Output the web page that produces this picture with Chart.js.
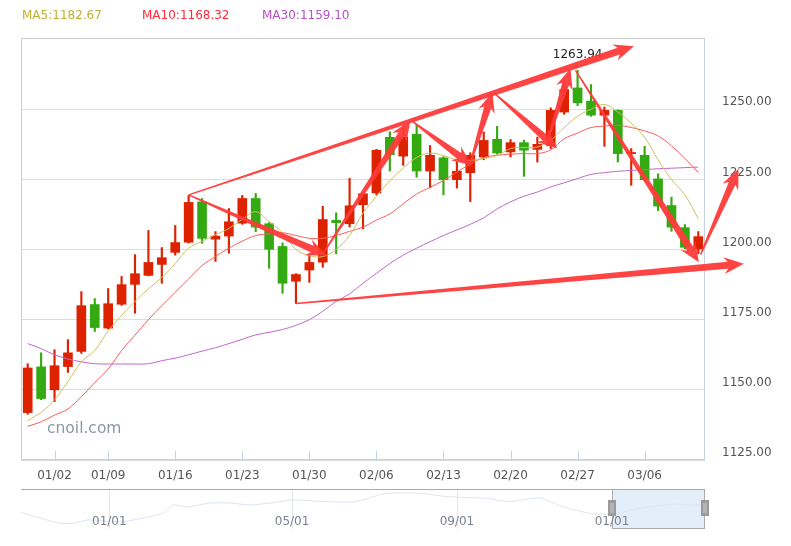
<!DOCTYPE html>
<html><head><meta charset="utf-8">
<script src="https://cdn.jsdelivr.net/npm/chart.js@4.4.1/dist/chart.umd.min.js"></script>
<style>
html,body{margin:0;padding:0;background:#fff;}
#wrap{position:relative;width:791px;height:546px;overflow:hidden;font-family:'DejaVu Sans',sans-serif;}
#main{position:absolute;left:0;top:0;}
#nav{position:absolute;left:0;top:480px;}
.lg{position:absolute;top:8px;font-size:12px;line-height:14px;white-space:nowrap;}
#wm{position:absolute;left:47px;top:419px;font-size:15.5px;line-height:18px;color:rgba(105,120,145,0.78);white-space:nowrap;}
</style></head>
<body><div id="wrap">
<canvas id="main" width="791" height="546"></canvas>
<canvas id="nav" width="791" height="60"></canvas>
<div class="lg" style="left:22px;color:#bdb136">MA5:1182.67</div>
<div class="lg" style="left:142px;color:#ff2a3a">MA10:1168.32</div>
<div class="lg" style="left:262px;color:#b452c4">MA30:1159.10</div>
<div id="wm">cnoil.com</div>
</div>
<script>
// ---------- data ----------
const dates = ['12/28','12/29','01/02','01/03','01/04','01/08','01/09','01/10','01/11','01/12',
  '01/15','01/16','01/17','01/18','01/19','01/22','01/23','01/24','01/25','01/26',
  '01/29','01/30','01/31','02/01','02/02','02/05','02/06','02/07','02/08','02/09',
  '02/12','02/13','02/14','02/15','02/16','02/19','02/20','02/21','02/22','02/23',
  '02/26','02/27','02/28','03/01','03/02','03/05','03/06','03/07','03/08','03/09','03/12'];
const xTickLabels = ['01/02','01/09','01/16','01/23','01/30','02/06','02/13','02/20','02/27','03/06'];
const yTicks = [1125,1150,1175,1200,1225,1250];

const open  = [1141.9,1158.2,1150.0,1158.3,1163.7,1180.4,1172.0,1180.5,1187.6,1190.8,
  1194.7,1199.0,1202.6,1217.0,1203.7,1204.8,1209.4,1218.2,1209.2,1201.1,
  1188.7,1192.7,1195.5,1210.4,1209.2,1216.0,1220.2,1240.0,1233.3,1241.1,
  1228.0,1232.7,1224.9,1227.4,1233.0,1239.3,1234.8,1238.1,1235.7,1237.1,
  1249.0,1257.6,1252.9,1247.9,1249.6,1234.2,1233.6,1225.2,1215.7,1207.8,1200.2];
const high  = [1159.3,1163.2,1164.3,1167.9,1185.0,1182.5,1186.1,1190.4,1198.2,1206.8,
  1200.7,1208.6,1219.3,1218.2,1206.4,1214.6,1219.3,1220.0,1209.6,1202.4,
  1191.4,1198.2,1215.4,1213.1,1225.4,1220.3,1235.7,1242.0,1244.0,1244.3,
  1237.1,1233.1,1231.2,1234.5,1241.9,1243.9,1239.2,1239.0,1240.1,1250.5,
  1259.0,1263.94,1258.8,1250.8,1249.8,1236.0,1236.8,1227.0,1218.7,1208.9,1206.4];
const low   = [1141.3,1146.5,1145.8,1156.2,1163.0,1170.8,1171.7,1180.1,1177.3,1190.6,
  1188.0,1198.0,1202.3,1202.2,1195.8,1198.7,1209.0,1206.4,1193.3,1184.4,
  1180.8,1188.3,1193.7,1198.5,1208.0,1207.4,1219.5,1228.0,1230.0,1225.8,
  1222.0,1219.5,1221.9,1217.1,1232.0,1234.0,1233.0,1226.1,1231.2,1236.0,
  1248.2,1251.3,1247.5,1236.8,1231.2,1222.9,1224.5,1213.9,1206.5,1200.3,1198.5];
const close = [1157.8,1146.9,1158.6,1163.2,1180.0,1172.2,1180.7,1187.5,1191.4,1195.4,
  1197.1,1202.5,1216.8,1204.0,1204.8,1209.9,1218.2,1208.0,1200.1,1188.0,
  1191.1,1195.4,1210.7,1209.6,1215.6,1219.9,1235.4,1233.8,1240.1,1228.0,
  1233.6,1224.9,1227.9,1233.6,1238.9,1234.4,1238.1,1235.4,1237.5,1249.6,
  1257.0,1252.3,1247.9,1249.6,1234.2,1234.6,1224.9,1215.5,1208.0,1200.8,1204.6];

const ma5  = [1139,1142,1146.5,1153,1160,1164,1171,1176.5,1181.5,1186,
  1190,1195,1200.5,1203,1205.3,1207.5,1210.8,1213.5,1210,1206,
  1200,1197.8,1197.5,1200,1205,1213,1219,1224.5,1229,1232.8,
  1234.4,1233.5,1232,1231.8,1232.4,1233.5,1236,1236.4,1236.5,1239,
  1243.5,1247.5,1250,1251.7,1249,1245,1240,1232,1225,1219.5,1211];
const ma10 = [1137,1138.6,1141,1143.2,1147.5,1152.6,1157.4,1164,1169.5,1175,
  1180,1184.8,1189.5,1194.3,1197.5,1200.5,1203,1205,1205.6,1206,
  1205,1204,1204,1205,1206.5,1208,1210.5,1212.7,1216.3,1219.8,
  1222.2,1224.6,1227.6,1230.5,1232.8,1233.6,1234,1234.2,1234.2,1235.5,
  1239.5,1241.5,1243.5,1244,1244.3,1243.5,1242.3,1240.5,1237,1232.5,1227.5];
const ma30 = [1166.5,1164.7,1162.5,1161,1160,1159.3,1159.2,1159.2,1159.2,1159.3,
  1160.4,1161.3,1162.5,1163.8,1165,1166.5,1168,1169.6,1170.5,1171.5,
  1173,1175,1178,1181.5,1184.2,1188,1191.5,1195,1198,1200.5,
  1202.8,1205,1207,1209,1211.3,1214.5,1217,1219,1220.5,1222.3,
  1223.8,1225.3,1226.8,1227.4,1227.9,1228.2,1228.5,1228.8,1229,1229.2,1229.4];

// hand-drawn arrows: [fromIndex, fromValue, toIndex, toValue]
const arrows = [
  [12.0,1219.5,45.2,1272.5],
  [12.0,1219.5,22.3,1197.9],
  [21.96,1198.2,28.53,1245.9],
  [28.68,1245.7,33.13,1230.0],
  [32.93,1229.6,34.65,1256.1],
  [34.8,1255.7,39.48,1236.0],
  [38.68,1237.5,40.47,1264.5],
  [40.84,1263.9,50.04,1195.5],
  [50.17,1198.2,53.0,1228.8],
  [20.02,1180.8,53.4,1194.9]
];

// navigator (full history, trading-day index vs price)
const navIdx   = [0,10.4,21.4,28.5,36.2,46,55.9,66.9,77.9,83.3,91,103.6,114.6,125.5,136.5,149.7,166.7,183.1,200.1,219.3,233.6,255.5,267,284.5,297.1,312,324,339.4,357.5,366.8,375];
const navPrice = [1174,1140,1108,1108,1128,1122,1118,1140,1170,1218,1206,1230,1230,1218,1230,1248,1238,1238,1288,1288,1268,1258,1238,1260,1208,1168,1164,1198,1224,1218,1218];
const navLabelIdx = [48.4,148.6,239,324];
const navLabels   = ['01/01','05/01','09/01','01/01'];
const navWindow   = [324,375];

// ---------- drawing ----------
const UP = '#dd2200', DOWN = '#33aa11';
const candleColor = close.map((c,i)=> c >= open[i] ? UP : DOWN);
Chart.defaults.font.family = "'DejaVu Sans', sans-serif";
Chart.defaults.font.size = 12;

function drawArrow(ctx, x0, y0, x1, y1){
  const dx = x1-x0, dy = y1-y0, len = Math.hypot(dx,dy);
  const ux = dx/len, uy = dy/len, nx = -uy, ny = ux;
  const headL = Math.min(20, len*0.35), headW = 8.5, w0 = 0.7, w1 = 3.6;
  const bx = x1-ux*headL, by = y1-uy*headL;
  const jx = bx+ux*4, jy = by+uy*4;
  ctx.beginPath();
  ctx.moveTo(x0+nx*w0, y0+ny*w0);
  ctx.lineTo(jx+nx*w1, jy+ny*w1);
  ctx.lineTo(bx+nx*headW, by+ny*headW);
  ctx.lineTo(x1, y1);
  ctx.lineTo(bx-nx*headW, by-ny*headW);
  ctx.lineTo(jx-nx*w1, jy-ny*w1);
  ctx.lineTo(x0-nx*w0, y0-ny*w0);
  ctx.closePath();
  ctx.fill();
}

const mainPlugin = {
  id: 'mainDeco',
  beforeDatasetsDraw(chart){
    const {ctx, chartArea:a, scales:{x}} = chart;
    ctx.save();
    ctx.lineWidth = 1;
    ctx.strokeStyle = '#cccccc';
    ctx.beginPath(); ctx.moveTo(a.left, a.top+0.5); ctx.lineTo(a.right, a.top+0.5); ctx.stroke();
    ctx.strokeStyle = '#c3d1e2';
    ctx.beginPath();
    ctx.moveTo(a.left+0.5, a.top); ctx.lineTo(a.left+0.5, a.bottom);
    ctx.moveTo(a.right-0.5, a.top); ctx.lineTo(a.right-0.5, a.bottom);
    ctx.moveTo(a.left, a.bottom-0.5); ctx.lineTo(a.right, a.bottom-0.5);
    dates.forEach((d,i)=>{
      if (xTickLabels.includes(d)) {
        const px = Math.round(x.getPixelForValue(i))+0.5;
        ctx.moveTo(px, a.bottom); ctx.lineTo(px, a.bottom-9);
      }
    });
    ctx.stroke();
    ctx.restore();
  },
  afterDraw(chart){
    const {ctx, scales:{x,y}} = chart;
    ctx.save();
    let mi = 0; high.forEach((h,i)=>{ if (h > high[mi]) mi = i; });
    ctx.fillStyle = '#222';
    ctx.font = "12px 'DejaVu Sans', sans-serif";
    ctx.textAlign = 'center'; ctx.textBaseline = 'middle';
    ctx.fillText(high[mi].toFixed(2), x.getPixelForValue(mi), y.getPixelForValue(high[mi]) - 15);
    ctx.fillStyle = 'rgba(255,58,58,0.95)';
    arrows.forEach(([i0,v0,i1,v1])=>{
      drawArrow(ctx, x.getPixelForValue(i0), y.getPixelForValue(v0), x.getPixelForValue(i1), y.getPixelForValue(v1));
    });
    ctx.restore();
  }
};

new Chart(document.getElementById('main'), {
  type: 'bar',
  data: {
    labels: dates,
    datasets: [
      {type:'line', label:'MA5', data: ma5, borderColor:'#cbc060', borderWidth:1, pointRadius:0, tension:0.35, order:0},
      {type:'line', label:'MA10', data: ma10, borderColor:'#ff5a5a', borderWidth:1, pointRadius:0, tension:0.35, order:0},
      {type:'line', label:'MA30', data: ma30, borderColor:'#c068cc', borderWidth:1, pointRadius:0, tension:0.35, order:0},
      {label:'body', data: open.map((o,i)=>[o, close[i]]), backgroundColor: candleColor, borderWidth:0, borderSkipped:false, barThickness:9, grouped:false, order:2},
      {label:'wick', data: low.map((l,i)=>[l, high[i]]), backgroundColor: candleColor, borderWidth:0, borderSkipped:false, barThickness:1.5, grouped:false, order:3}
    ]
  },
  options: {
    responsive:false, animation:false,
    layout:{padding:{left:21, top:38, right:0, bottom:56}},
    plugins:{legend:{display:false}, tooltip:{enabled:false}},
    scales:{
      x:{
        grid:{display:false, drawTicks:false}, border:{display:false},
        afterFit(s){ s.height = 30; },
        ticks:{autoSkip:false, maxRotation:0, padding:9, color:'#555',
          callback(v){ const l = this.getLabelForValue(v); return xTickLabels.includes(l) ? l : ''; }}
      },
      y:{
        position:'right', min:1125, max:1275.4,
        afterBuildTicks(s){ s.ticks = yTicks.map(v=>({value:v})); },
        afterFit(s){ s.width = 86; },
        grid:{color:'#dcdcdc', lineWidth:1, drawTicks:false}, border:{display:false},
        ticks:{padding:17, color:'#555', labelOffset:-7, callback:v=>Number(v).toFixed(2)}
      }
    }
  },
  plugins:[mainPlugin]
});

const navPlugin = {
  id:'navDeco',
  beforeDatasetsDraw(chart){
    const {ctx, chartArea:a, scales:{x}} = chart;
    ctx.save();
    ctx.strokeStyle = '#e6e6e6'; ctx.lineWidth = 1;
    ctx.beginPath();
    navLabelIdx.forEach(v=>{ const px = Math.round(x.getPixelForValue(v))+0.5; ctx.moveTo(px,a.top); ctx.lineTo(px,a.bottom); });
    ctx.stroke();
    const sx = x.getPixelForValue(navWindow[0]), ex = x.getPixelForValue(navWindow[1]);
    ctx.fillStyle = 'rgba(205,223,245,0.55)';
    ctx.fillRect(sx, a.top, ex-sx, a.bottom-a.top);
    ctx.restore();
  },
  afterDatasetsDraw(chart){
    const {ctx, chartArea:a, scales:{x}} = chart;
    ctx.save();
    const sx = x.getPixelForValue(navWindow[0]), ex = x.getPixelForValue(navWindow[1]);
    ctx.strokeStyle = '#aaaaaa'; ctx.lineWidth = 1;
    ctx.beginPath(); ctx.moveTo(a.left, a.top+0.5); ctx.lineTo(sx, a.top+0.5); ctx.stroke();
    ctx.strokeRect(Math.round(sx)+0.5, a.top+0.5, Math.round(ex-sx)-1, a.bottom-a.top-1);
    ctx.fillStyle = '#7a828f';
    ctx.font = "12px 'DejaVu Sans', sans-serif";
    ctx.textAlign = 'center'; ctx.textBaseline = 'middle';
    navLabelIdx.forEach((v,i)=> ctx.fillText(navLabels[i], x.getPixelForValue(v), a.top+33));
    [sx, ex].forEach(hx=>{
      const hl = Math.round(hx)-4, ht = a.top+11;
      ctx.fillStyle = '#9a9a9a'; ctx.fillRect(hl, ht, 8, 16);
      ctx.fillStyle = '#d0d0d0'; ctx.fillRect(hl+2.5, ht+3, 1, 10); ctx.fillRect(hl+4.5, ht+3, 1, 10);
    });
    ctx.restore();
  }
};

new Chart(document.getElementById('nav'), {
  type:'line',
  data:{datasets:[{data: navIdx.map((v,i)=>({x:v, y:navPrice[i]})), borderColor:'#dce5f1', borderWidth:1, pointRadius:0, tension:0.2, fill:false}]},
  options:{
    responsive:false, animation:false,
    layout:{padding:{left:21, right:86, top:9, bottom:11}},
    plugins:{legend:{display:false}, tooltip:{enabled:false}},
    scales:{x:{type:'linear', min:0, max:375, display:false}, y:{min:1074, max:1314, display:false}}
  },
  plugins:[navPlugin]
});
</script>
</body></html>
